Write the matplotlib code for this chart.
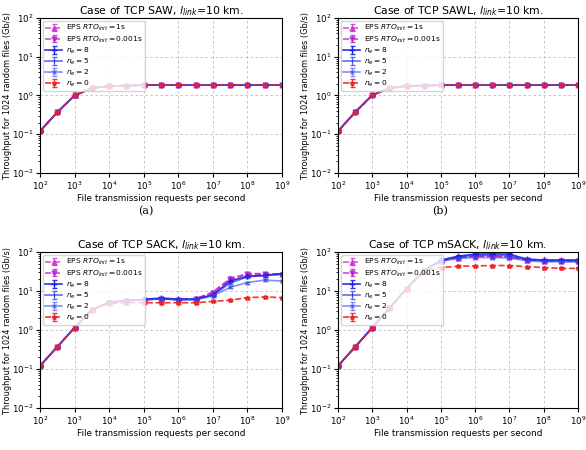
import numpy as np
import matplotlib
matplotlib.use("Agg")
import matplotlib.pyplot as plt

# x positions: file transmission requests per second
x_vals = [1e2, 3.16e2, 1e3, 3.16e3, 1e4, 3.16e4, 1e5, 3.16e5, 1e6, 3.16e6, 1e7, 3.16e7, 1e8, 3.16e8, 1e9]

titles = ["Case of TCP SAW, $l_{link}$=10 km.",
          "Case of TCP SAWL, $l_{link}$=10 km.",
          "Case of TCP SACK, $l_{link}$=10 km.",
          "Case of TCP mSACK, $l_{link}$=10 km."]

series_labels = ["EPS $RTO_{init}=1$s", "EPS $RTO_{init}=0.001$s",
                 "$n_e=8$", "$n_e=5$", "$n_e=2$", "$n_e=0$"]

# SAW
saw_eps1 = [0.12, 0.37, 1.0, 1.55, 1.75, 1.8, 1.85, 1.85, 1.85, 1.85, 1.85, 1.85, 1.85, 1.85, 1.85]
saw_eps2 = [0.12, 0.37, 1.0, 1.55, 1.75, 1.8, 1.85, 1.85, 1.85, 1.85, 1.85, 1.85, 1.85, 1.85, 1.85]
saw_ne8 = [0.12, 0.37, 1.0, 1.55, 1.75, 1.8, 1.85, 1.85, 1.85, 1.85, 1.85, 1.85, 1.85, 1.85, 1.85]
saw_ne5 = [0.12, 0.37, 1.0, 1.55, 1.75, 1.8, 1.85, 1.85, 1.85, 1.85, 1.85, 1.85, 1.85, 1.85, 1.85]
saw_ne2 = [0.12, 0.37, 1.0, 1.55, 1.75, 1.8, 1.85, 1.85, 1.85, 1.85, 1.85, 1.85, 1.85, 1.85, 1.85]
saw_ne0 = [0.12, 0.37, 1.0, 1.55, 1.75, 1.8, 1.85, 1.85, 1.85, 1.85, 1.85, 1.85, 1.85, 1.85, 1.85]

# SAWL
sawl_eps1 = [0.12, 0.37, 1.02, 1.55, 1.75, 1.8, 1.85, 1.85, 1.85, 1.85, 1.85, 1.85, 1.85, 1.85, 1.85]
sawl_eps2 = [0.12, 0.37, 1.02, 1.55, 1.75, 1.8, 1.85, 1.85, 1.85, 1.85, 1.85, 1.85, 1.85, 1.85, 1.85]
sawl_ne8 = [0.12, 0.37, 1.02, 1.55, 1.75, 1.8, 1.85, 1.85, 1.85, 1.85, 1.85, 1.85, 1.85, 1.85, 1.85]
sawl_ne5 = [0.12, 0.37, 1.02, 1.55, 1.75, 1.8, 1.85, 1.85, 1.85, 1.85, 1.85, 1.85, 1.85, 1.85, 1.85]
sawl_ne2 = [0.12, 0.37, 1.02, 1.55, 1.75, 1.8, 1.85, 1.85, 1.85, 1.85, 1.85, 1.85, 1.85, 1.85, 1.85]
sawl_ne0 = [0.12, 0.37, 1.02, 1.55, 1.75, 1.8, 1.85, 1.85, 1.85, 1.85, 1.85, 1.85, 1.85, 1.85, 1.85]

# SACK
sack_eps1 = [0.12, 0.37, 1.15, 3.3, 5.0, 5.6, 6.0, 6.3, 6.0, 6.3, 9.5, 21.0, 28.0, 28.0, 27.0]
sack_eps2 = [0.12, 0.37, 1.15, 3.3, 5.0, 5.6, 6.0, 6.3, 6.0, 6.3, 9.0, 20.0, 27.0, 27.0, 26.0]
sack_ne8 = [0.12, 0.37, 1.15, 3.3, 5.1, 5.7, 6.1, 6.6, 6.2, 6.2, 8.0, 18.0, 24.0, 25.0, 28.0]
sack_ne5 = [0.12, 0.37, 1.15, 3.3, 5.1, 5.7, 6.0, 6.3, 6.0, 6.0, 7.8, 16.0, 23.0, 25.0, 27.0]
sack_ne2 = [0.12, 0.37, 1.15, 3.3, 5.1, 5.6, 6.0, 6.2, 6.0, 6.0, 7.5, 12.5, 16.5, 19.0, 18.0]
sack_ne0 = [0.12, 0.37, 1.15, 3.3, 4.8, 5.0, 5.0, 5.0, 5.0, 5.0, 5.4, 5.8, 6.8, 7.0, 6.8]

# mSACK
msack_eps1 = [0.12, 0.37, 1.15, 3.6, 11.5, 33.0, 60.0, 72.0, 78.0, 78.0, 75.0, 62.0, 60.0, 60.0, 60.0]
msack_eps2 = [0.12, 0.37, 1.15, 3.6, 11.5, 33.0, 60.0, 72.0, 78.0, 78.0, 75.0, 62.0, 60.0, 60.0, 60.0]
msack_ne8 = [0.12, 0.37, 1.15, 3.6, 11.5, 33.0, 62.0, 78.0, 88.0, 90.0, 88.0, 66.0, 62.0, 62.0, 62.0]
msack_ne5 = [0.12, 0.37, 1.15, 3.6, 11.5, 33.0, 60.0, 75.0, 82.0, 82.0, 80.0, 64.0, 60.0, 60.0, 58.0]
msack_ne2 = [0.12, 0.37, 1.15, 3.6, 11.5, 33.0, 58.0, 68.0, 72.0, 72.0, 70.0, 60.0, 56.0, 56.0, 55.0]
msack_ne0 = [0.12, 0.37, 1.15, 3.6, 11.5, 33.0, 40.0, 43.0, 44.0, 45.0, 45.0, 42.0, 40.0, 38.0, 38.0]

panels = [
    [saw_eps1, saw_eps2, saw_ne8, saw_ne5, saw_ne2, saw_ne0],
    [sawl_eps1, sawl_eps2, sawl_ne8, sawl_ne5, sawl_ne2, sawl_ne0],
    [sack_eps1, sack_eps2, sack_ne8, sack_ne5, sack_ne2, sack_ne0],
    [msack_eps1, msack_eps2, msack_ne8, msack_ne5, msack_ne2, msack_ne0],
]

rel_err = 0.06  # small relative error bar size

styles = [
    dict(color="#cc33cc", ls="--", marker="^", ms=3.5, alpha=0.8),
    dict(color="#bb22cc", ls="--", marker="v", ms=3.5, alpha=0.8),
    dict(color="#1a1aee", ls="-", marker="+", ms=4.5, alpha=0.9),
    dict(color="#2233dd", ls="-", marker="|", ms=3.5, alpha=0.7),
    dict(color="#3344ee", ls="-", marker="x", ms=3.5, alpha=0.6),
    dict(color="#ee2222", ls="--", marker="*", ms=3.5, alpha=0.9),
]

fig = plt.figure(figsize=(5.86, 4.5), dpi=100)
W, H = 586.0, 450.0
boxes = [(40, 18, 282, 173), (338, 18, 578, 173), (40, 252, 282, 408), (338, 252, 578, 408)]

for i, (box, data, title) in enumerate(zip(boxes, panels, titles)):
    l, t, r, b = box
    ax = fig.add_axes([l / W, 1 - b / H, (r - l) / W, (b - t) / H])
    for y, st, lab in zip(data, styles, series_labels):
        y = np.array(y)
        ax.errorbar(x_vals, y, yerr=y * rel_err, label=lab, lw=1.2, capsize=1.8,
                    elinewidth=0.8, **st)
    ax.set_xscale("log")
    ax.set_yscale("log")
    ax.set_xlim(1e2, 1e9)
    ax.set_ylim(1e-2, 1e2)
    ax.grid(True, which="major", ls=(0, (3, 3)), color="#bbbbbb", lw=0.6)
    ax.set_title(title, fontsize=7.8, pad=3)
    ax.set_xlabel("File transmission requests per second", fontsize=6.4, labelpad=1)
    ax.set_ylabel("Throughput for 1024 random files (Gb/s)", fontsize=5.9)
    ax.yaxis.set_label_coords(-27.5 / (r - l), 0.5)
    ax.tick_params(labelsize=6.2, pad=2, length=3)
    ax.tick_params(which="minor", length=1.5)
    ax.xaxis.set_minor_locator(matplotlib.ticker.NullLocator())
    ax.legend(loc="upper left", fontsize=5.4, framealpha=0.8, handlelength=2.2,
              borderpad=0.3, labelspacing=0.12, handletextpad=0.6,
              borderaxespad=0.4)

fig.text(146 / W, 1 - 211 / H, "(a)", ha="center", va="center", fontsize=8,
         family="DejaVu Serif")
fig.text(440 / W, 1 - 211 / H, "(b)", ha="center", va="center", fontsize=8,
         family="DejaVu Serif")

fig.savefig("out.png", dpi=100)
